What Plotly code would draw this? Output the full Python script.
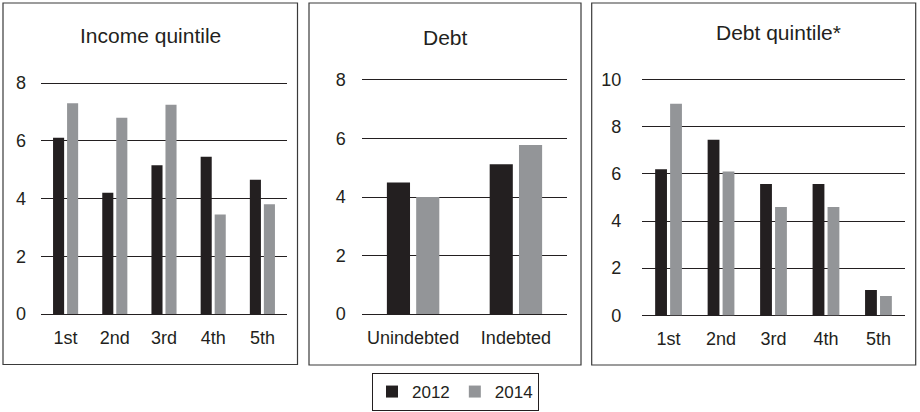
import plotly.graph_objects as go

# ---- data ----
income_cats = ["1st", "2nd", "3rd", "4th", "5th"]
income_2012 = [6.1, 4.2, 5.15, 5.45, 4.65]
income_2014 = [7.3, 6.8, 7.25, 3.45, 3.8]

debt_cats = ["Unindebted", "Indebted"]
debt_2012 = [4.5, 5.12]
debt_2014 = [4.0, 5.78]

dq_cats = ["1st", "2nd", "3rd", "4th", "5th"]
dq_2012 = [6.2, 7.45, 5.57, 5.57, 1.07]
dq_2014 = [8.98, 6.1, 4.6, 4.6, 0.82]

titles = ["Income quintile", "Debt", "Debt quintile*"]
years = ["2012", "2014"]
y_tops = [8, 8, 10]

# ---- style ----
W, H = 920, 412
C2012 = "#231f20"
C2014 = "#939598"
LINE = "#231f20"
FONT = "Liberation Sans, Arial, sans-serif"

def px_x(p):
    return p / W

def px_y(p):
    return 1 - p / H

fig = go.Figure()

panels = [
    (income_cats, income_2012, income_2014, "x", "y"),
    (debt_cats, debt_2012, debt_2014, "x2", "y2"),
    (dq_cats, dq_2012, dq_2014, "x3", "y3"),
]
for i, (cats, v12, v14, xa, ya) in enumerate(panels):
    fig.add_trace(go.Bar(x=cats, y=v12, name=years[0], marker=dict(color=C2012, line=dict(width=0)),
                         xaxis=xa, yaxis=ya, legendgroup="a", showlegend=(i == 0)))
    fig.add_trace(go.Bar(x=cats, y=v14, name=years[1], marker=dict(color=C2014, line=dict(width=0)),
                         xaxis=xa, yaxis=ya, legendgroup="b", showlegend=(i == 0)))

# plot-area pixel boxes: (left, right, pixel of top value, pixel of zero)
areas = [(41, 287, 83, 314), (361.7, 567.3, 80, 314), (642.3, 904.7, 79.7, 315.3)]
ystand = [14, 15, 20]
PADV = 0.1  # small range padding so the end gridlines are drawn

layout = dict(
    width=W, height=H,
    margin=dict(l=0, r=0, t=0, b=0, autoexpand=False),
    paper_bgcolor="white", plot_bgcolor="white",
    barmode="group", bargap=0.43, bargroupgap=0.21,
    font=dict(family=FONT, size=18, color="#231f20"),
    showlegend=True,
    legend=dict(orientation="h", x=px_x(372), xanchor="left", y=px_y(373), yanchor="top",
                bordercolor=LINE, borderwidth=1, font=dict(size=17),
                itemwidth=30, tracegroupgap=0),
)
for i, (l, r, t, b) in enumerate(areas):
    sfx = "" if i == 0 else str(i + 1)
    top = y_tops[i]
    u = (b - t) / top
    layout["xaxis" + sfx] = dict(domain=[px_x(l), px_x(r)], anchor="y" + sfx, showgrid=False,
                                 showline=False, zeroline=False, ticks="", ticklabelstandoff=8,
                                 fixedrange=True)
    layout["yaxis" + sfx] = dict(domain=[px_y(b + PADV * u), px_y(t - PADV * u)], anchor="x" + sfx,
                                 range=[-PADV, top + PADV],
                                 dtick=2, tick0=0, showgrid=True, gridcolor=LINE, gridwidth=1.3,
                                 zeroline=False,
                                 showline=False, ticks="", ticklabelstandoff=ystand[i],
                                 fixedrange=True)
fig.update_layout(**layout)

# panel borders
boxes = [(3, 297.5, 3, 364.5), (309, 581, 3, 365), (591.7, 915.7, 3, 365)]
for (l, r, t, b) in boxes:
    fig.add_shape(type="rect", xref="paper", yref="paper", x0=px_x(l), x1=px_x(r),
                  y0=px_y(b), y1=px_y(t), line=dict(color="#3a3a3a", width=1.2), layer="above")

# panel titles
title_pos = [(150, 36), (445.8, 38), (778.7, 33)]
for txt, (cx, cy) in zip(titles, title_pos):
    fig.add_annotation(text=txt, xref="paper", yref="paper", x=px_x(cx), y=px_y(cy),
                       xanchor="center", yanchor="middle", showarrow=False,
                       font=dict(family=FONT, size=21, color="#231f20"))

fig.write_html("out.html", config={"displayModeBar": False},
               post_script="document.body.style.margin='0';document.body.style.overflow='hidden';")
